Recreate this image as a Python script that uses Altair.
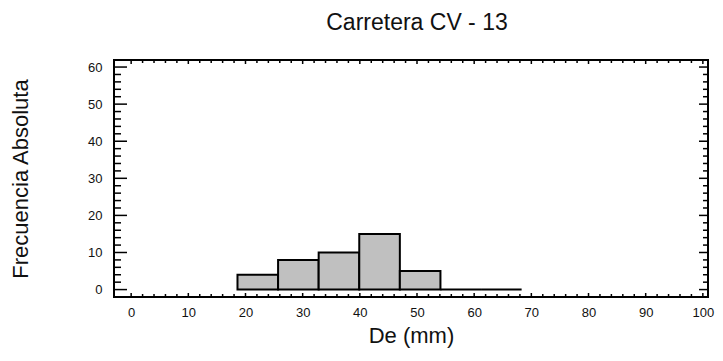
import altair as alt
import pandas as pd

# Histogram bins (De, mm) and absolute frequencies
bin_start = [18.6, 25.7, 32.8, 39.9, 47.0, 54.1, 61.2]
bin_end = [25.7, 32.8, 39.9, 47.0, 54.1, 61.2, 68.3]
counts = [4, 8, 10, 15, 5, 0, 0]

# Tick values
x_major = [0, 10, 20, 30, 40, 50, 60, 70, 80, 90, 100]
x_minor = [v for v in range(0, 101, 2) if v % 10 != 0]
y_major = [0, 10, 20, 30, 40, 50, 60]
y_minor = [v for v in range(0, 61, 2) if v % 10 != 0]

W, H = 594, 237
FONT = "Liberation Sans"

df = pd.DataFrame({"start": bin_start, "end": bin_end, "count": counts})
xmaj = pd.DataFrame({"start": x_major})
xmin = pd.DataFrame({"start": x_minor})
ymaj = pd.DataFrame({"count": y_major})
ymin = pd.DataFrame({"count": y_minor})

xs = alt.Scale(domain=[-3.0, 100.9], nice=False, zero=False)
ys = alt.Scale(domain=[-2.0, 61.9], nice=False, zero=False)

xaxis = alt.Axis(
    values=x_major, title="De (mm)", ticks=False, domain=False, grid=False,
    labelPadding=9, labelFontSize=13, labelFont=FONT, labelColor="#111",
    titleFont=FONT, titleFontSize=22, titleFontWeight="normal", titleColor="#111",
    titlePadding=6)
yaxis = alt.Axis(
    values=y_major, title="Frecuencia Absoluta", ticks=False, domain=False, grid=False,
    labelPadding=12, labelFontSize=13, labelFont=FONT, labelColor="#111",
    titleFont=FONT, titleFontSize=22, titleFontWeight="normal", titleColor="#111",
    titlePadding=55)

bars = alt.Chart(df).mark_rect(fill="#c0c0c0", stroke="black", strokeWidth=2).encode(
    x=alt.X("start:Q", scale=xs, axis=xaxis),
    x2="end:Q",
    y=alt.Y("count:Q", scale=ys, axis=yaxis),
    y2=alt.datum(0),
)

def xrule(data, y0, y1):
    return alt.Chart(data).mark_rule(color="black", strokeWidth=1.5).encode(
        x=alt.X("start:Q", scale=xs, axis=xaxis), y=alt.value(y0), y2=alt.value(y1))

def yrule(data, x0, x1):
    return alt.Chart(data).mark_rule(color="black", strokeWidth=1.5).encode(
        y=alt.Y("count:Q", scale=ys, axis=yaxis), x=alt.value(x0), x2=alt.value(x1))

ticks = [
    xrule(xmaj, H, H - 4), xrule(xmin, H, H - 3),
    xrule(xmaj, 0, 4), xrule(xmin, 0, 3),
    yrule(ymaj, 0, 13), yrule(ymin, 0, 7),
    yrule(ymaj, W, W - 9), yrule(ymin, W, W - 5),
]

chart = alt.layer(bars, *ticks).properties(
    width=W, height=H,
    title=alt.TitleParams("Carretera CV - 13", font=FONT, fontSize=23, fontWeight="normal",
                          color="#111", offset=24, anchor="middle", dx=6),
    autosize=alt.AutoSizeParams(type="none"),
    padding={"left": 106, "top": 52, "right": 7, "bottom": 56},
).configure_view(stroke="black", strokeWidth=2)

chart.save("out.html", embed_options={"renderer": "svg", "actions": False})
